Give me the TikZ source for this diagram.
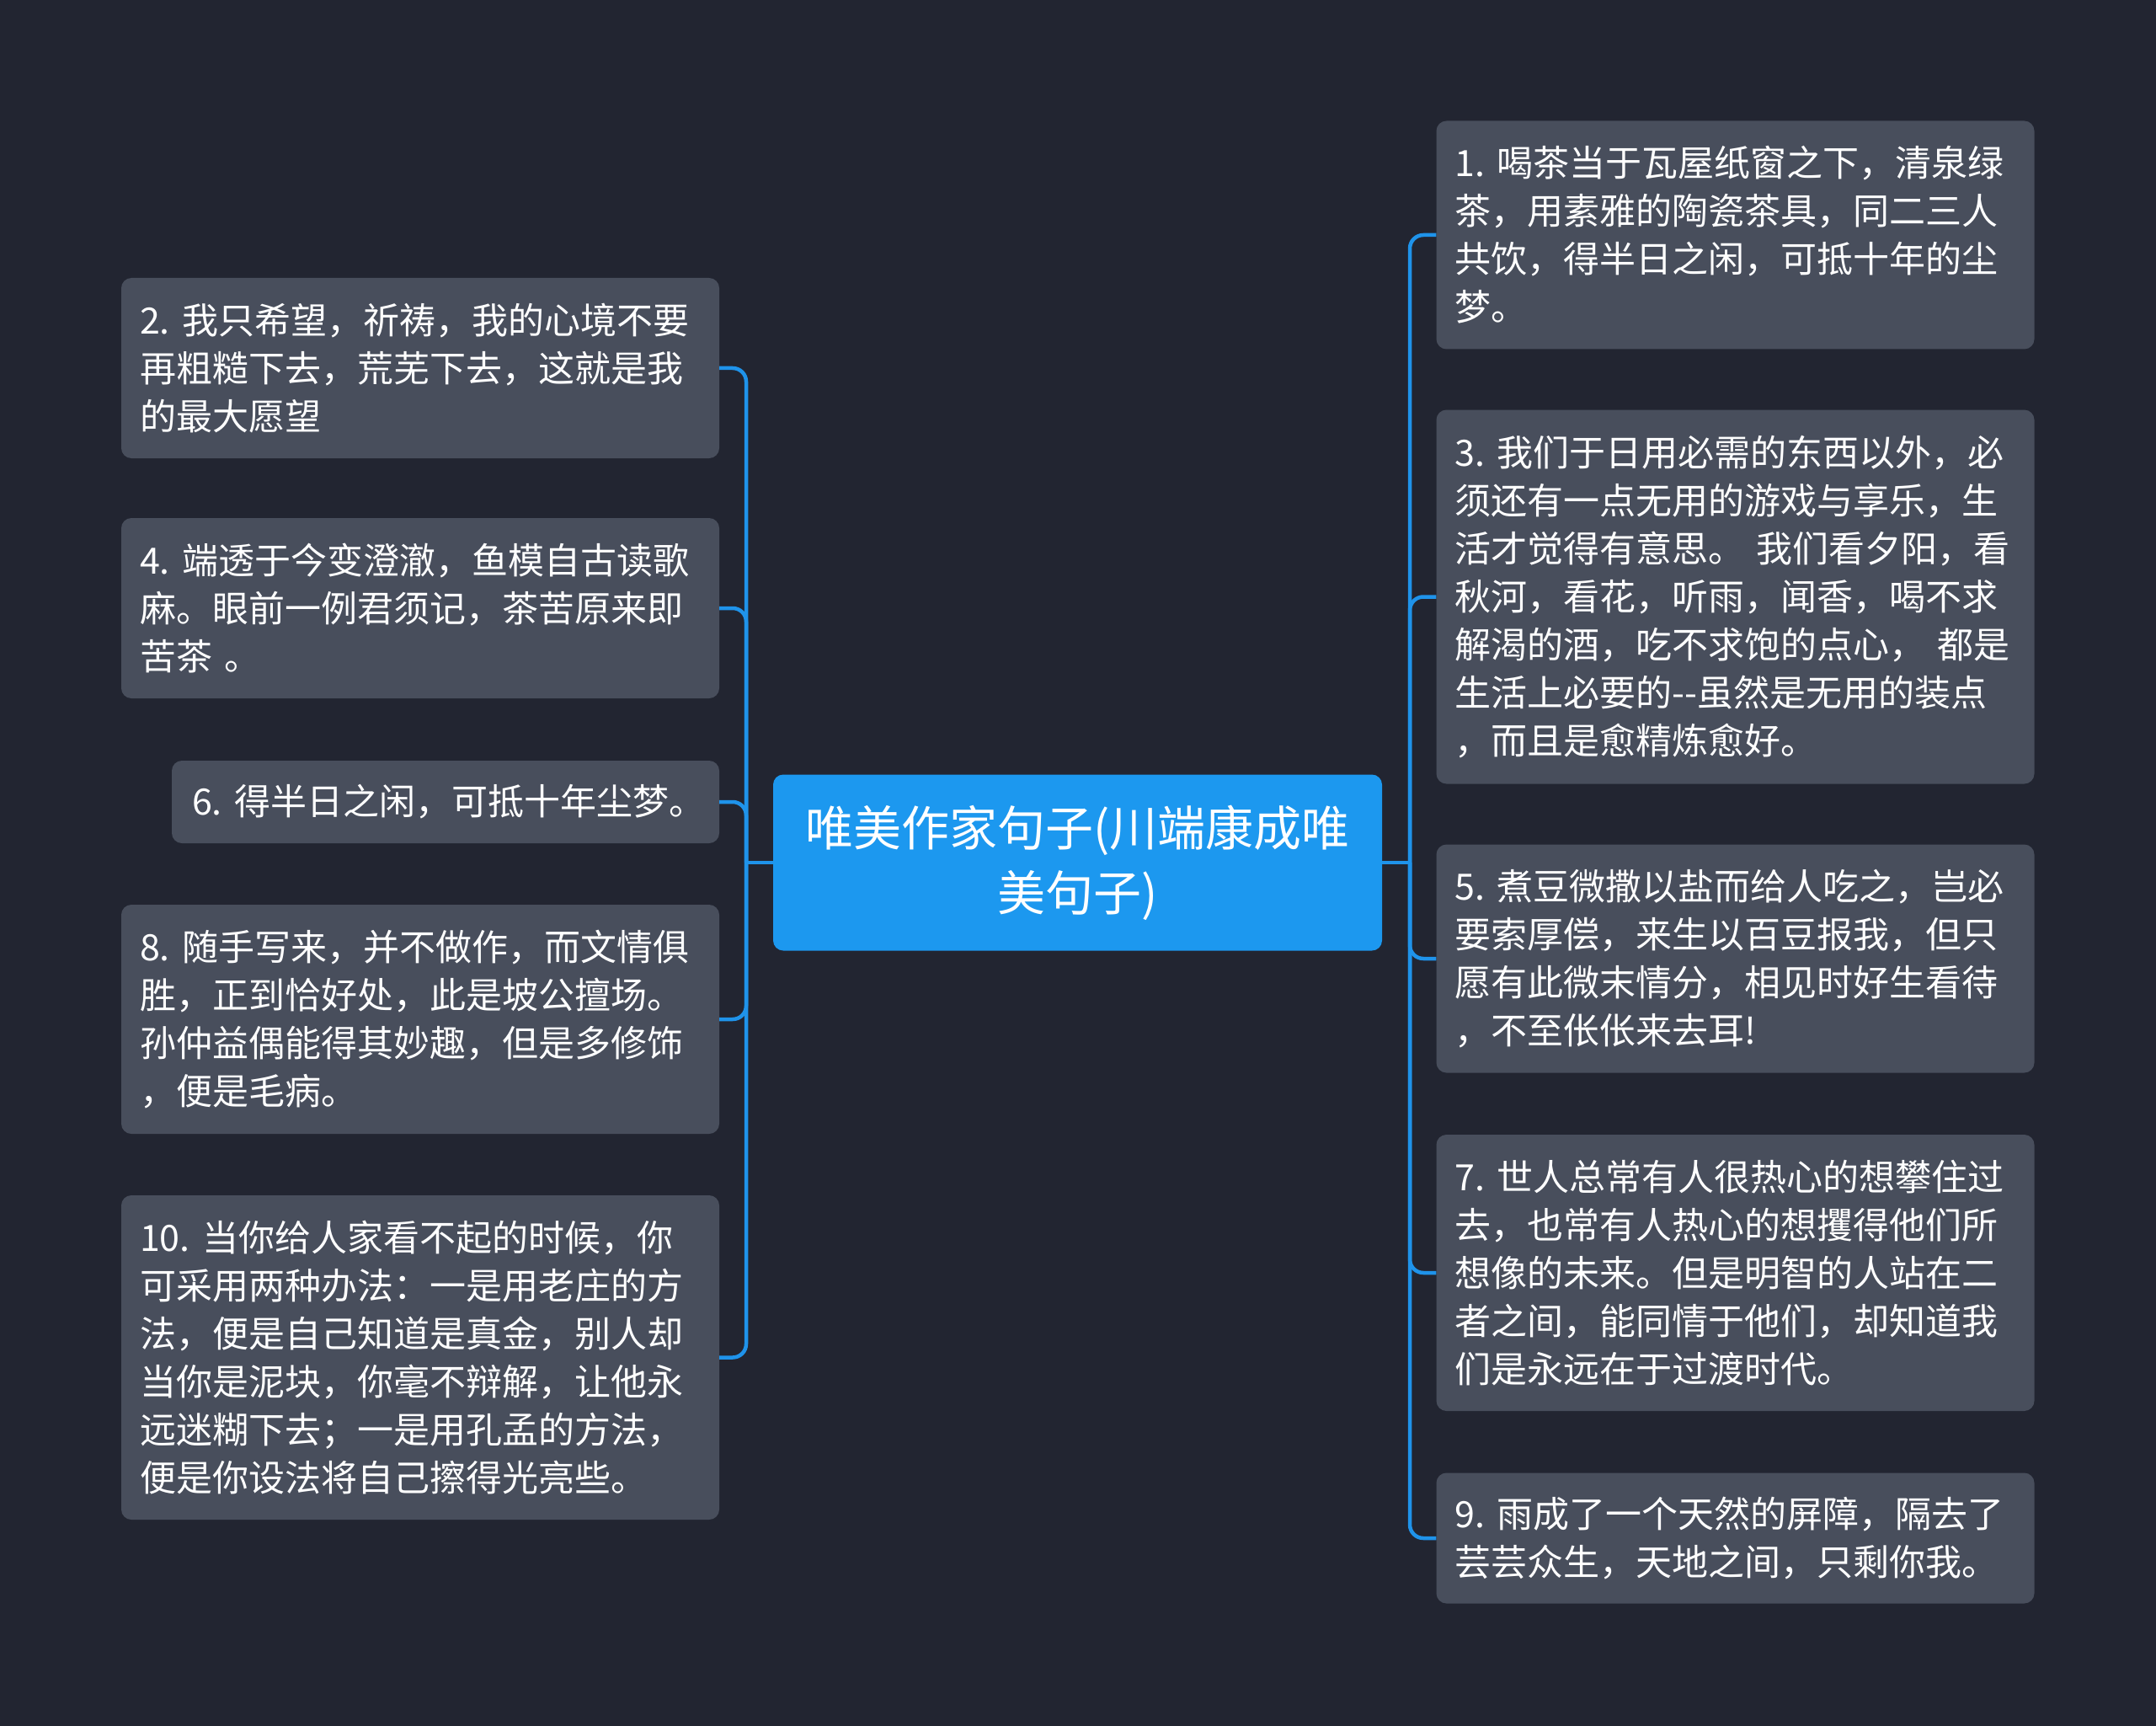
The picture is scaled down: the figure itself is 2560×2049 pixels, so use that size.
\documentclass[tikz,border=0pt]{standalone}
\usepackage{fontspec}
\setmainfont{Noto Sans CJK SC}
\definecolor{bg}{HTML}{222531}
\definecolor{boxc}{HTML}{484E5C}
\definecolor{cen}{HTML}{1C98EF}
\definecolor{lnc}{HTML}{1F93EA}
\frenchspacing
\begin{document}
\begin{tikzpicture}[x=1pt,y=-1pt,
  leaf/.style={fill=boxc, rounded corners=12pt, text=white, align=left,
    font=\fontsize{43}{57}\selectfont\frenchspacing, inner xsep=22pt, inner ysep=0pt,
    text width=666pt, anchor=center},
  rootbox/.style={fill=cen, rounded corners=12pt, text=white, align=center,
    font=\fontsize{57}{77}\selectfont, inner sep=0pt, minimum width=723pt, minimum height=209pt},
  conn/.style={draw=lnc, line width=4.5pt, rounded corners=16pt}]
\useasboundingbox (0,0) rectangle (2560,2049);
\fill[bg] (0,0) rectangle (2560,2049);

\node[rootbox] (c) at (1279.5,1024) {唯美作家句子(川端康成唯\\美句子)};

% left
\node[leaf, minimum height=214pt] (b2) at (499,437) {2.~我只希望，祈祷，我的心境不要\\再粗糙下去，荒芜下去，这就是我\\的最大愿望};
\node[leaf, minimum height=214pt] (b4) at (499,722) {4.~端透于今变澄澈，鱼模自古读歌\\麻。眼前一例君须记，茶苦原来即\\苦茶 。};
\node[leaf, minimum height=98pt, text width=602pt, inner xsep=24pt] (b6) at (529,952) {6.~得半日之闲，可抵十年尘梦。};
\node[leaf, minimum height=272pt] (b8) at (499,1210) {8.~随手写来，并不做作，而文情俱\\胜，正到恰好处，此是坡公擅场。\\孙仲益偶能得其妙趣，但是多修饰\\，便是毛病。};
\node[leaf, minimum height=385pt] (b10) at (499,1611.5) {10.~当你给人家看不起的时候，你\\可采用两种办法：一是用老庄的方\\法，便是自己知道是真金，别人却\\当你是泥块，你毫不辩解，让他永\\远迷糊下去；一是用孔孟的方法，\\便是你设法将自己擦得光亮些。};

% right
\node[leaf, minimum height=271pt] (b1) at (2060.5,279) {1.~喝茶当于瓦屋纸窗之下，清泉绿\\茶，用素雅的陶瓷茶具，同二三人\\共饮，得半日之闲，可抵十年的尘\\梦。};
\node[leaf, minimum height=444pt] (b3) at (2060.5,708.5) {3.~我们于日用必需的东西以外，必\\须还有一点无用的游戏与享乐，生\\活才觉得有意思。~我们看夕阳，看\\秋河，看花，听雨，闻香，喝不求\\解渴的酒，吃不求饱的点心，~都是\\生活上必要的{-}{-}虽然是无用的装点\\，而且是愈精炼愈好。};
\node[leaf, minimum height=271pt] (b5) at (2060.5,1138) {5.~煮豆微撒以盐而给人吃之，岂必\\要索厚偿，来生以百豆报我，但只\\愿有此微末情分，相见时好生看待\\，不至伥伥来去耳!};
\node[leaf, minimum height=328pt] (b7) at (2060.5,1511) {7.~世人总常有人很热心的想攀住过\\去，也常有人热心的想攫得他们所\\想像的未来。但是明智的人站在二\\者之间，能同情于他们，却知道我\\们是永远在于过渡时代。};
\node[leaf, minimum height=155pt] (b9) at (2060.5,1826) {9.~雨成了一个天然的屏障，隔去了\\芸芸众生，天地之间，只剩你我。};

\coordinate (lj) at (886,1024);
\coordinate (rj) at (1674,1024);
\draw[conn] (c.west) -- (lj);
\draw[conn] (c.east) -- (rj);
\foreach \n in {b2,b4,b6,b8,b10} \draw[conn] (lj) |- (\n.east);
\foreach \n in {b1,b3,b5,b7,b9} \draw[conn] (rj) |- (\n.west);
\end{tikzpicture}
\end{document}
